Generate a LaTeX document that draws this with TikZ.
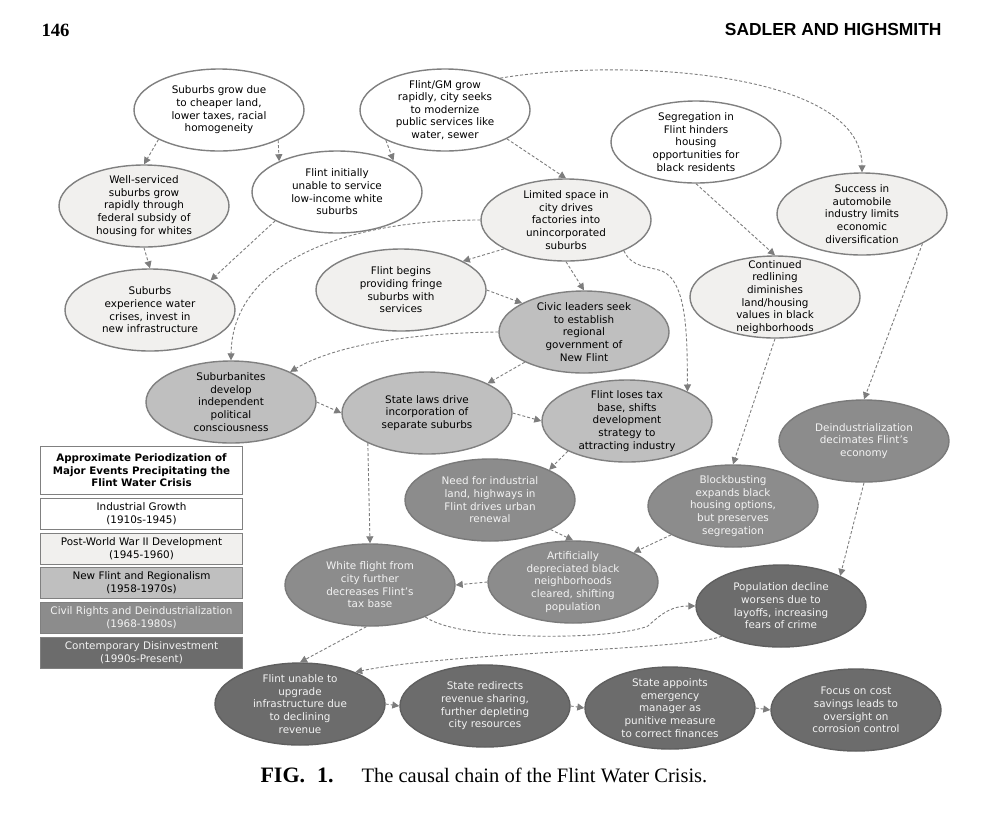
\documentclass[tikz,border=0pt]{standalone}
\usepackage{fontspec}
\setmainfont{DejaVu Sans}
\newfontfamily\capserif{Liberation Serif}
\newfontfamily\headsans{Liberation Sans}
\usetikzlibrary{shapes.geometric,arrows.meta}
\definecolor{edgegray}{RGB}{128,128,128}
\definecolor{arrowgray}{RGB}{125,125,125}
\definecolor{postwarfill}{RGB}{241,240,238}
\definecolor{regionfill}{RGB}{191,191,191}
\definecolor{civilfill}{RGB}{140,140,140}
\definecolor{civiledge}{RGB}{122,122,122}
\definecolor{contempfill}{RGB}{108,108,108}
\definecolor{contempedge}{RGB}{95,95,95}
\definecolor{lighttext}{RGB}{243,243,243}

\begin{document}
\begin{tikzpicture}[x=1pt,y=-1pt,
    ev/.style={ellipse,draw=edgegray,line width=1.4pt,minimum width=170pt,minimum height=82pt,
      inner xsep=0pt,inner ysep=-12pt,align=center,font=\fontsize{10.4}{12.6}\selectfont},
    growth/.style={ev,fill=white},
    postwar/.style={ev,fill=postwarfill},
    regional/.style={ev,fill=regionfill},
    civil/.style={ev,fill=civilfill,draw=civiledge,text=lighttext},
    contemp/.style={ev,fill=contempfill,draw=contempedge,text=lighttext},
    cause/.style={draw=arrowgray,line width=0.9pt,dash pattern=on 3pt off 2pt,
      -{Triangle[length=7pt,width=7pt]}},
    period/.style={rectangle,draw=edgegray,line width=1.4pt,minimum width=202pt,minimum height=31pt,
      inner sep=0pt,align=center,font=\fontsize{10.4}{12.6}\selectfont}]
  \useasboundingbox[fill=white] (0,0) rectangle (1000,812);

  \node[anchor=west,font=\capserif\bfseries\fontsize{18.7}{20}\selectfont] (pageno) at (38,30) {146};
  \node[anchor=east,font=\headsans\bfseries\fontsize{17.4}{20}\selectfont] (authors) at (945,30) {SADLER AND HIGHSMITH};

  \node[growth] (cheap) at (219,110) {Suburbs grow due\\to cheaper land,\\lower taxes, racial\\homogeneity};
  \node[growth] (gmgrow) at (445,110) {Flint/GM grow\\rapidly, city seeks\\to modernize\\public services like\\water, sewer};
  \node[postwar] (fedsub) at (144,206) {Well-serviced\\suburbs grow\\rapidly through\\federal subsidy of\\housing for whites};
  \node[growth] (unable) at (337,192) {Flint initially\\unable to service\\low-income white\\suburbs};
  \node[postwar] (crises) at (150,310) {Suburbs\\experience water\\crises, invest in\\new infrastructure};
  \node[growth] (segreg) at (696,142) {Segregation in\\Flint hinders\\housing\\opportunities for\\black residents};
  \node[postwar] (space) at (566,220) {Limited space in\\city drives\\factories into\\unincorporated\\suburbs};
  \node[postwar] (autos) at (862,214) {Success in\\automobile\\industry limits\\economic\\diversification};
  \node[postwar] (fringe) at (401,290) {Flint begins\\providing fringe\\suburbs with\\services};
  \node[regional] (civic) at (584,332) {Civic leaders seek\\to establish\\regional\\government of\\New Flint};
  \node[postwar] (redline) at (775,297) {Continued\\redlining\\diminishes\\land/housing\\values in black\\neighborhoods};
  \node[regional] (polit) at (231,402) {Suburbanites\\develop\\independent\\political\\consciousness};
  \node[regional] (statelaw) at (427,413) {State laws drive\\incorporation of\\separate suburbs};
  \node[regional] (taxbase) at (627,421) {Flint loses tax\\base, shifts\\development\\strategy to\\attracting industry};
  \node[civil] (deind) at (864,441) {Deindustrialization\\decimates Flint’s\\economy};
  \node[civil] (renewal) at (490,500) {Need for industrial\\land, highways in\\Flint drives urban\\renewal};
  \node[civil] (blockb) at (733,506) {Blockbusting\\expands black\\housing options,\\but preserves\\segregation};
  \node[civil] (whitefl) at (370,585) {White flight from\\city further\\decreases Flint’s\\tax base};
  \node[civil] (cleared) at (573,582) {Artificially\\depreciated black\\neighborhoods\\cleared, shifting\\population};
  \node[contemp] (popdec) at (781,606) {Population decline\\worsens due to\\layoffs, increasing\\fears of crime};
  \node[contemp] (infra) at (300,704) {Flint unable to\\upgrade\\infrastructure due\\to declining\\revenue};
  \node[contemp] (revshare) at (485,706) {State redirects\\revenue sharing,\\further depleting\\city resources};
  \node[contemp] (emerg) at (670,708) {State appoints\\emergency\\manager as\\punitive measure\\to correct finances};
  \node[contemp] (costs) at (856,710) {Focus on cost\\savings leads to\\oversight on\\corrosion control};

  \node[period,minimum height=48pt,font=\bfseries\fontsize{10.3}{12.6}\selectfont] (legtitle) at (141.5,470.5)
    {Approximate Periodization of\\Major Events Precipitating the\\Flint Water Crisis};
  \node[period,fill=white] (leg1) at (141.5,514) {Industrial Growth\\(1910s-1945)};
  \node[period,fill=postwarfill] (leg2) at (141.5,549) {Post-World War II Development\\(1945-1960)};
  \node[period,fill=regionfill] (leg3) at (141.5,583) {New Flint and Regionalism\\(1958-1970s)};
  \node[period,fill=civilfill,text=lighttext] (leg4) at (141.5,618) {Civil Rights and Deindustrialization\\(1968-1980s)};
  \node[period,fill=contempfill,text=lighttext] (leg5) at (141.5,653) {Contemporary Disinvestment\\(1990s-Present)};

  \draw[cause] (cheap.206) -- (fedsub.north);
  \draw[cause] (cheap.-27) -- (unable.152);
  \draw[cause] (gmgrow.207) -- (unable.29);
  \draw[cause] (gmgrow.-25) -- (space.north);
  \draw[cause] (gmgrow.30) .. controls (620,58) and (862,70) .. (autos.north);
  \draw[cause] (fedsub.south) -- (crises.north);
  \draw[cause] (unable.205) -- (crises.26);
  \draw[cause] (segreg.south) -- (redline.north);
  \draw[cause] (space.205) -- (fringe.25);
  \draw[cause] (space.south) -- (civic.north);
  \draw[cause] (space.west) .. controls (330,220) and (232,270) .. (polit.north);
  \draw[cause] (space.-28) .. controls (632,268) and (648,266) .. (662,271)
    .. controls (688,282) and (687,340) .. (taxbase.26);
  \draw[cause] (autos.-26) -- (deind.north);
  \draw[cause] (fringe.east) -- (civic.155);
  \draw[cause] (civic.west) .. controls (400,333) and (330,348) .. (polit.27);
  \draw[cause] (civic.207) -- (statelaw.26);
  \draw[cause] (redline.south) -- (blockb.north);
  \draw[cause] (polit.east) -- (statelaw.west);
  \draw[cause] (statelaw.east) -- (taxbase.west);
  \draw[cause] (statelaw.207) -- (whitefl.north);
  \draw[cause] (taxbase.207) -- (renewal.27);
  \draw[cause] (deind.south) -- (popdec.27);
  \draw[cause] (renewal.-26) -- (cleared.north);
  \draw[cause] (blockb.205) -- (cleared.26);
  \draw[cause] (cleared.west) -- (whitefl.east);
  \draw[cause] (whitefl.-30) .. controls (460,642) and (615,640) .. (648,626)
    .. controls (665,610) and (675,606) .. (popdec.west);
  \draw[cause] (whitefl.-95) -- (infra.north);
  \draw[cause] (popdec.207) .. controls (690,650) and (450,652) .. (infra.30);
  \draw[cause] (infra.east) -- (revshare.west);
  \draw[cause] (revshare.east) -- (emerg.west);
  \draw[cause] (emerg.east) -- (costs.west);

  \node[anchor=west,font=\capserif\fontsize{20.5}{22}\selectfont] (caption) at (257,775)
    {\textbf{\fontsize{22}{22}\selectfont FIG.\hspace{12pt}1.}\hspace{28pt}The causal chain of the Flint Water Crisis.};
\end{tikzpicture}
\end{document}
